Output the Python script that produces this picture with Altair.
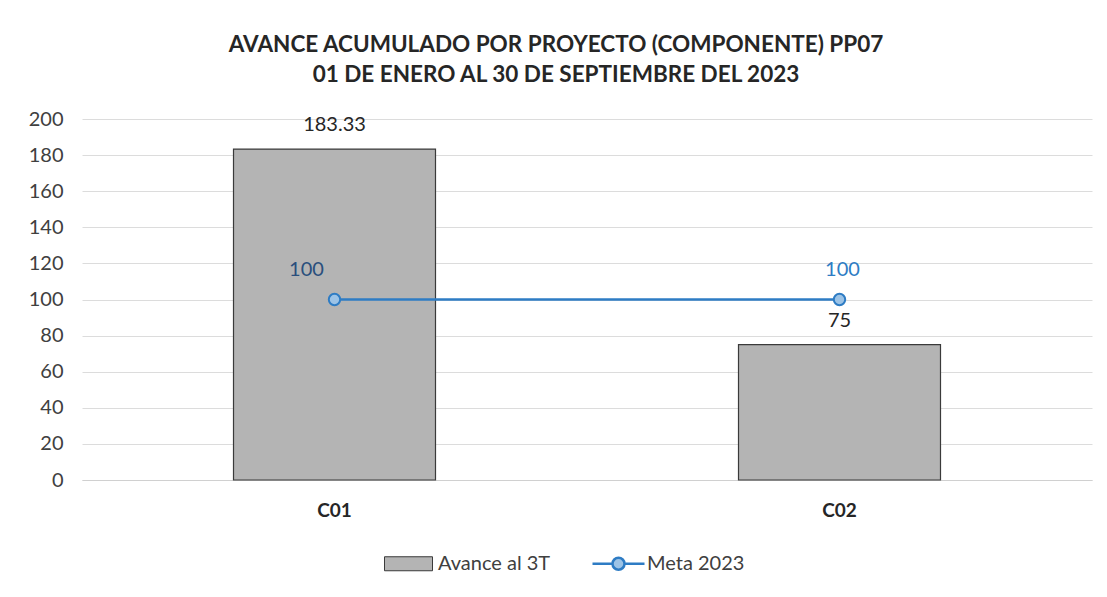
import altair as alt
import pandas as pd

componentes = ["C01", "C02"]
avance = [183.33, 75]
meta = [100, 100]
series = ["Avance al 3T", "Meta 2023"]

df_bar = pd.DataFrame({"comp": componentes, "valor": avance})
df_line = pd.DataFrame({"comp": componentes, "valor": meta})
df_leg = pd.DataFrame({"comp": [componentes[0]] * 2, "valor": [0, 0], "serie": series})

FONT = "Lato"
GRAY = "#b4b4b4"
DARK = "#3a3a3a"
BLUE = "#2e7cc4"
NAVY = "#2a4f7d"
LIGHTBLUE = "#9cc3e6"

x = alt.X("comp:N", title=None,
          scale=alt.Scale(paddingInner=0.6, paddingOuter=0.3),
          axis=alt.Axis(labelAngle=0, labelFontWeight="bold", labelFontSize=19,
                        labelColor="#262626", labelPadding=21, ticks=False,
                        domainColor="#d0d0d0", grid=False, labelFont=FONT))
y = alt.Y("valor:Q", title=None,
          scale=alt.Scale(domain=[0, 200], nice=False),
          axis=alt.Axis(values=list(range(0, 201, 20)), ticks=False, domain=False,
                        labelFontSize=20, labelColor="#404040", labelPadding=19,
                        gridColor="#dcdcdc", labelFont=FONT))

bar_path = "M-1,-0.7H3.8V0.7H-1Z"
line_path = "M-1,0H1.0M2.2,0H4.2M2.2,0A0.6,0.6 0 1,1 1.0,0A0.6,0.6 0 1,1 2.2,0Z"

legend = alt.Legend(
    title=None, orient="none", legendX=302, legendY=433, direction="horizontal",
    labelFontSize=20, labelColor="#404040", labelFont=FONT, symbolSize=400,
    labelOffset=33, columnPadding=36, symbolOpacity=1,
)

bars = alt.Chart(df_bar).mark_bar(fill=GRAY, stroke=DARK, strokeWidth=1.2).encode(x=x, y=y)
bar_text = alt.Chart(df_bar).mark_text(dy=-24, fontSize=20, color="#262626", font=FONT).encode(
    x=x, y=y, text=alt.Text("valor:Q", format=".2~f"))

line = alt.Chart(df_line).mark_line(strokeWidth=2.5, color=BLUE).encode(x=x, y=y)
points = alt.Chart(df_line).mark_point(shape="circle", size=130, strokeWidth=2, opacity=1,
                                       fill=LIGHTBLUE, stroke=BLUE, filled=True).encode(x=x, y=y)
line_text_1 = alt.Chart(df_line).transform_filter(
    alt.datum.comp == componentes[0]
).mark_text(dy=-30, dx=-28, fontSize=20, color=NAVY, font=FONT).encode(
    x=x, y=y, text=alt.Text("valor:Q"))
line_text_2 = alt.Chart(df_line).transform_filter(
    alt.datum.comp == componentes[1]
).mark_text(dy=-30, dx=3, fontSize=20, color=BLUE, font=FONT).encode(
    x=x, y=y, text=alt.Text("valor:Q"))

leg_layer = alt.Chart(df_leg).mark_point(opacity=0, size=400).encode(
    x=x, y=y,
    fill=alt.Fill("serie:N", scale=alt.Scale(domain=series, range=[GRAY, LIGHTBLUE]), legend=legend),
    stroke=alt.Stroke("serie:N", scale=alt.Scale(domain=series, range=[DARK, BLUE]), legend=legend),
    shape=alt.Shape("serie:N", scale=alt.Scale(domain=series, range=[bar_path, line_path]), legend=legend),
    strokeWidth=alt.StrokeWidth("serie:O", scale=alt.Scale(domain=series, range=[1, 2.5]), legend=legend),
)

chart = alt.layer(bars, bar_text, line, points, line_text_1, line_text_2, leg_layer).properties(
    width=1010, height=361,
    background="white",
    title=alt.TitleParams(
        ["AVANCE ACUMULADO POR PROYECTO (COMPONENTE) PP07",
         "01 DE ENERO AL 30 DE SEPTIEMBRE DEL 2023"],
        fontSize=22.5, font=FONT, fontWeight="bold", color="#262626",
        anchor="middle", dx=-31, offset=23, lineHeight=30),
    autosize=alt.AutoSizeParams(type="none"),
    padding={"left": 74, "top": 111, "right": 5, "bottom": 100},
).configure_view(stroke="transparent", strokeWidth=0)

chart.save("out.html", embed_options={"renderer": "svg", "actions": False})
